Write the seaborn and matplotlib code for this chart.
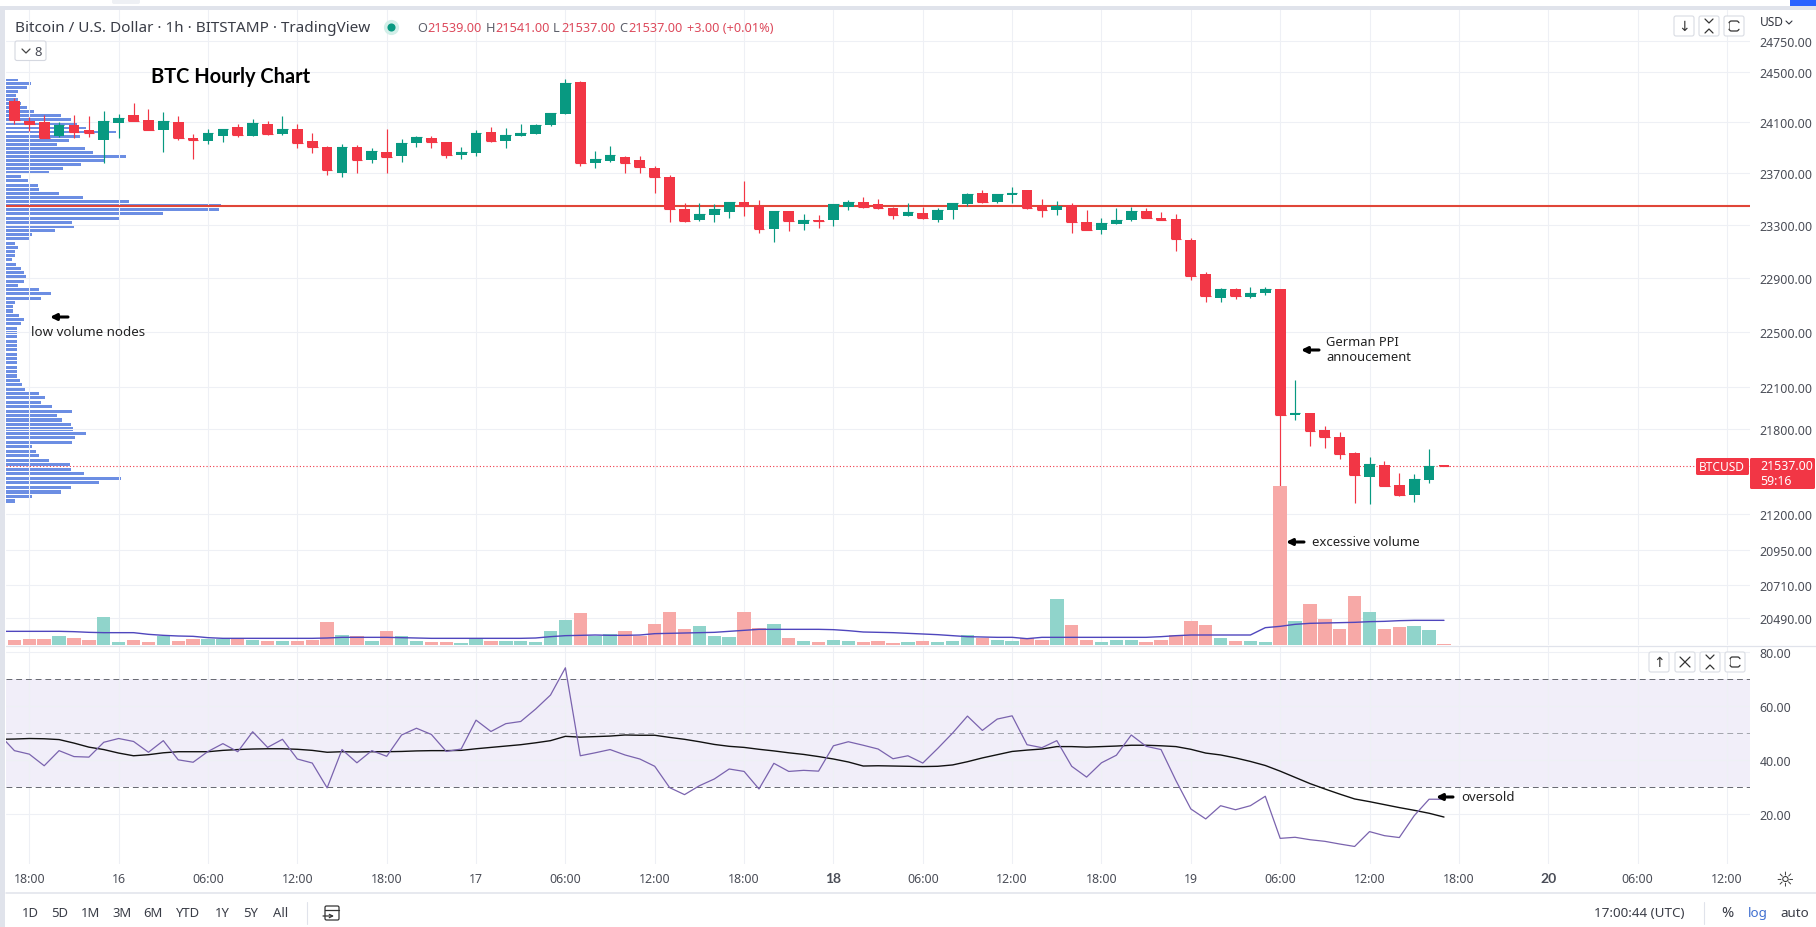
import numpy as np
import seaborn as sns
import matplotlib.pyplot as plt
from matplotlib.patches import FancyBboxPatch, Rectangle
from matplotlib.ticker import NullLocator

# hourly candles, hour 0 = 15 Aug 18:00
hours = np.arange(-1, 96)
opens = [24268, 24111, 24100, 23990, 24079, 24040, 23961, 24095, 24158, 24118,
         24040, 24100, 23976, 23953, 23992, 24063, 23992, 24087, 24008, 24047,
         23953, 23905, 23703, 23905, 23803, 23866, 23834, 23937, 23976, 23945,
         23842, 23858, 24024, 23953, 23992, 24008, 24079, 24166, 24423, 23779,
         23795, 23826, 23803, 23742, 23672, 23426, 23341, 23380, 23403, 23479,
         23451, 23272, 23410, 23311, 23344, 23341, 23441, 23479, 23464, 23433,
         23372, 23395, 23341, 23418, 23464, 23548, 23479, 23533, 23572, 23448,
         23418, 23454, 23326, 23265, 23311, 23341, 23410, 23357, 23349, 23189,
         22933, 22753, 22820, 22761, 22791, 22820, 21898, 21913, 21791, 21741,
         21628, 21458, 21543, 21402, 21332, 21437, 21539]
closes = [24121, 24087, 23979, 24079, 24024, 24016, 24111, 24134, 24111, 24042,
          24111, 23976, 23961, 24016, 24047, 24000, 24095, 24008, 24047, 23937,
          23905, 23726, 23905, 23803, 23874, 23826, 23937, 23984, 23945, 23842,
          23866, 24016, 23950, 24000, 24016, 24079, 24174, 24412, 23779, 23811,
          23842, 23779, 23750, 23672, 23426, 23334, 23387, 23426, 23479, 23448,
          23272, 23410, 23334, 23341, 23336, 23464, 23479, 23441, 23433, 23380,
          23403, 23357, 23418, 23471, 23541, 23479, 23541, 23548, 23433, 23418,
          23448, 23326, 23265, 23318, 23341, 23410, 23357, 23341, 23197, 22918,
          22768, 22820, 22768, 22791, 22820, 21898, 21913, 21784, 21741, 21621,
          21472, 21550, 21395, 21332, 21444, 21536, 21537]
highs = [24289, 24139, 24158, 24100, 24155, 24150, 24189, 24163, 24253, 24203,
         24179, 24150, 24005, 24045, 24047, 24084, 24124, 24108, 24150, 24084,
         24016, 23913, 23926, 23921, 23895, 24047, 23968, 23992, 23992, 23945,
         23903, 24040, 24063, 24053, 24084, 24087, 24174, 24444, 24431, 23874,
         23913, 23832, 23832, 23760, 23688, 23471, 23471, 23464, 23479, 23641,
         23494, 23410, 23410, 23387, 23380, 23464, 23494, 23517, 23502, 23438,
         23471, 23441, 23433, 23471, 23548, 23572, 23541, 23595, 23572, 23502,
         23487, 23469, 23418, 23354, 23433, 23441, 23431, 23400, 23387, 23207,
         22948, 22826, 22828, 22835, 22835, 22820, 22151, 21913, 21819, 21776,
         21635, 21599, 21571, 21486, 21479, 21656, 21541]
lows = [24087, 24034, 23979, 23982, 23976, 23987, 23782, 23976, 24111, 24042,
        23866, 23963, 23811, 23932, 23945, 23984, 23992, 24000, 24000, 23895,
        23858, 23688, 23672, 23700, 23779, 23702, 23787, 23905, 23897, 23819,
        23811, 23834, 23945, 23897, 23992, 24008, 24071, 24166, 23757, 23742,
        23792, 23703, 23703, 23548, 23326, 23329, 23336, 23326, 23357, 23372,
        23242, 23174, 23257, 23265, 23280, 23295, 23418, 23433, 23426, 23349,
        23372, 23349, 23326, 23349, 23448, 23471, 23471, 23471, 23426, 23364,
        23380, 23242, 23265, 23234, 23311, 23334, 23357, 23341, 23106, 22888,
        22724, 22721, 22746, 22753, 22776, 21374, 21862, 21677, 21663, 21585,
        21276, 21269, 21395, 21325, 21283, 21416, 21537]

volume = [15, 18, 18, 27, 21, 15, 84, 9, 15, 9, 27, 12, 18, 18, 18, 18, 15, 12, 12, 12,
          15, 69, 30, 27, 12, 42, 27, 12, 9, 9, 6, 18, 12, 12, 12, 9, 42, 75, 96, 27,
          33, 42, 27, 63, 99, 48, 57, 27, 24, 99, 51, 63, 21, 12, 9, 15, 12, 9, 12, 6,
          9, 12, 9, 12, 30, 21, 15, 12, 21, 15, 138, 60, 15, 9, 15, 15, 9, 15, 30, 72,
          60, 21, 12, 12, 9, 478, 72, 123, 78, 48, 147, 99, 48, 54, 57, 45, 3]
# these three start one hour earlier, clipped by the left edge
line_hours = np.arange(-2, 96)
volume_ma = [41, 41, 41, 41, 41, 40, 38, 37, 37, 37, 32, 29, 27, 26, 22, 20, 20, 20, 20, 20,
             20, 20, 21, 23, 23, 23, 23, 22, 21, 20, 20, 20, 20, 20, 20, 20, 21, 25, 28, 29,
             30, 29, 29, 30, 34, 35, 36, 37, 38, 41, 44, 47, 47, 47, 47, 47, 46, 43, 39, 38,
             37, 35, 33, 31, 28, 25, 24, 23, 23, 19, 23, 23, 23, 23, 23, 23, 23, 23, 25, 28,
             30, 30, 30, 30, 30, 52, 56, 62, 65, 66, 67, 68, 70, 71, 73, 74, 74, 74]
rsi = [49.5, 43.6, 42.3, 38.0, 43.6, 41.4, 41.2, 46.7, 48.1, 47.0, 43.0, 47.3, 40.2, 39.3,
       43.3, 46.2, 43.2, 50.6, 44.8, 47.8, 40.5, 39.0, 29.8, 44.0, 39.1, 43.6, 41.5, 49.4,
       51.9, 49.6, 43.3, 44.2, 54.9, 50.7, 53.6, 54.4, 59.0, 64.2, 74.3, 41.7, 42.8, 44.0,
       42.0, 40.5, 37.8, 29.9, 27.3, 30.6, 33.1, 36.8, 35.9, 29.4, 38.9, 35.9, 36.3, 36.0,
       45.4, 46.9, 45.6, 44.2, 40.6, 41.7, 39.0, 44.4, 50.1, 56.4, 51.1, 55.3, 56.5, 45.8,
       44.7, 47.3, 37.8, 33.8, 39.1, 41.9, 49.4, 45.2, 44.0, 32.5, 22.0, 18.3, 23.2, 21.7,
       23.2, 26.7, 11.1, 11.5, 10.6, 10.0, 9.0, 8.1, 13.6, 12.1, 11.4, 19.5, 25.6, 25.6]
rsi_ma = [47.8, 47.9, 48.1, 48.0, 47.7, 46.4, 44.9, 44.0, 42.7, 41.7, 42.1, 42.8, 43.2, 43.2,
          43.2, 43.7, 44.0, 44.2, 44.3, 44.3, 44.1, 43.7, 43.0, 43.2, 43.1, 43.2, 43.2, 43.3,
          43.5, 43.6, 43.6, 43.7, 44.3, 44.8, 45.3, 45.8, 46.5, 47.3, 48.9, 48.6, 48.8, 49.0,
          49.4, 49.3, 49.3, 48.5, 47.8, 46.9, 45.9, 45.2, 44.8, 44.1, 43.5, 42.8, 42.2, 41.4,
          40.5, 39.4, 37.9, 38.0, 37.9, 37.8, 37.7, 37.8, 38.3, 39.5, 40.9, 42.1, 43.3, 43.8,
          44.2, 45.1, 45.1, 44.9, 45.1, 45.3, 45.6, 45.6, 45.4, 45.1, 44.1, 42.7, 42.0, 40.9,
          39.6, 38.1, 36.0, 33.7, 31.4, 29.4, 27.5, 25.7, 24.7, 23.6, 22.5, 21.5, 20.4, 19.0]

# volume profile rows, top to bottom
profile_prices = np.linspace(24436, 21290, 100)
profile_volume = [12, 25, 21, 12, 10, 12, 15, 21, 28, 55, 65, 71, 80, 110, 74, 63, 51, 79, 87, 120,
                  98, 75, 57, 43, 15, 22, 32, 33, 53, 77, 123, 215, 213, 157, 114, 66, 68, 49, 26, 23,
                  9, 12, 9, 9, 6, 10, 15, 18, 20, 18, 12, 33, 45, 35, 9, 7, 7, 13, 18, 15,
                  11, 11, 11, 11, 11, 11, 11, 11, 11, 11, 11, 11, 14, 16, 19, 33, 39, 35, 46, 66,
                  51, 56, 65, 67, 80, 69, 66, 26, 30, 33, 43, 64, 65, 78, 115, 93, 65, 55, 26, 9]
poc_price = 23451
last_price = 21537

price_ticks = [24750, 24500, 24100, 23700, 23300, 22900, 22500, 22100, 21800, 21200, 20950, 20710, 20490]
rsi_ticks = [20, 40, 60, 80]
time_ticks = np.arange(0, 115, 6)
time_labels = ["18:00", "16", "06:00", "12:00", "18:00", "17", "06:00", "12:00", "18:00", "18",
               "06:00", "12:00", "18:00", "19", "06:00", "12:00", "18:00", "20", "06:00", "12:00"]
range_buttons = ["1D", "5D", "1M", "3M", "6M", "YTD", "1Y", "5Y", "All"]
range_button_x = [30, 60, 91, 122, 153, 188, 222, 251, 281]

RED = "#f23645"
GREEN = "#089981"
VOL_RED = "#f7a9a7"
VOL_GREEN = "#90d4cb"
GRID = "#eef0f5"
TEXT = "#4a4d57"
FONT = "Noto Sans"

sns.set_theme(style="white")
plt.rcParams["font.family"] = [FONT, "DejaVu Sans"]

W, H = 1816, 928
fig = plt.figure(figsize=(W / 100, H / 100), dpi=100, facecolor="white")


def pane(left, top, right, bottom, **kw):
    return fig.add_axes([left / W, 1 - bottom / H, (right - left) / W, (bottom - top) / H], **kw)


xlim = (-1.565, 115.55)
price_lim = (20310, 25010)

# volume profile sits behind the price pane
ax_prof = pane(6, 10, 1750, 646, zorder=0)
ax_prof.set_yscale("log")
ax_prof.barh(profile_prices, profile_volume, height=23, color="#6c8ee3", linewidth=0)
ax_prof.set_xlim(0, 1744)
ax_prof.set_ylim(price_lim)
ax_prof.axis("off")

ax = pane(6, 10, 1750, 646, zorder=1)
ax.patch.set_visible(False)
ax.set_yscale("log")
ax.axhline(poc_price, color="#e04638", lw=1.5, zorder=3)
ax.axhline(last_price, color=RED, lw=0.8, ls=(0, (1, 2)), zorder=3)

colors = [GREEN if c >= o else RED for o, c in zip(opens, closes)]
opens_a, closes_a = np.array(opens), np.array(closes)
ax.vlines(hours, lows, highs, colors=colors, lw=0.85, zorder=4)
ax.bar(hours, np.abs(closes_a - opens_a), bottom=np.minimum(opens_a, closes_a), width=0.72,
       color=colors, linewidth=0, zorder=5)
ax.hlines(closes, hours - 0.36, hours + 0.36, colors=colors, lw=0.8, zorder=5)

# volume overlay, own linear scale, hidden axis
ax_vol = ax.twinx()
ax_vol.set_zorder(2)
vol_side = ["up" if c >= o else "down" for o, c in zip(opens, closes)]
sns.barplot(x=hours, y=volume, hue=vol_side, palette={"up": VOL_GREEN, "down": VOL_RED},
            native_scale=True, dodge=False, width=0.9, saturation=1, linewidth=0,
            legend=False, errorbar=None, ax=ax_vol)
sns.lineplot(x=line_hours, y=volume_ma, color="#4f46bd", linewidth=1, errorbar=None, ax=ax_vol)
ax_vol.set_ylim(0, 1908)
ax_vol.axis("off")

ax.set_xlim(xlim)
ax.set_ylim(price_lim)
ax.yaxis.set_minor_locator(NullLocator())
ax.yaxis.tick_right()
ax.set_yticks(price_ticks)
ax.set_yticklabels([f"{p:.2f}" for p in price_ticks])
ax.set_xticks(time_ticks)
ax.tick_params(axis="x", length=0, labelbottom=False)
ax.tick_params(axis="y", length=0, pad=7, labelsize=8.9, labelcolor=TEXT)
ax.grid(True, color=GRID, lw=0.75)
ax.set_axisbelow(True)
for s in ax.spines.values():
    s.set_visible(False)

# RSI pane
ax_rsi = pane(6, 648, 1750, 865, zorder=1)
ax_rsi.axhspan(30, 70, color="#f1eef9", lw=0, zorder=0)
for level, c in [(70, "#666870"), (50, "#a2a4ac"), (30, "#666870")]:
    ax_rsi.axhline(level, color=c, lw=0.7, ls=(0, (6, 4)), zorder=2)
sns.lineplot(x=line_hours, y=rsi_ma, color="#111111", linewidth=1.0, errorbar=None, ax=ax_rsi, zorder=3)
sns.lineplot(x=line_hours, y=rsi, color="#7a63ae", linewidth=0.9, errorbar=None, ax=ax_rsi, zorder=4)
ax_rsi.set_xlim(xlim)
ax_rsi.set_ylim(1.6, 82)
ax_rsi.yaxis.tick_right()
ax_rsi.set_yticks(rsi_ticks)
ax_rsi.set_yticklabels([f"{v:.2f}" for v in rsi_ticks])
ax_rsi.set_xticks(time_ticks)
ax_rsi.set_xticklabels(time_labels)
ax_rsi.set_xlabel("")
ax_rsi.set_ylabel("")
ax_rsi.tick_params(axis="x", length=0, pad=6, labelsize=8.9, labelcolor=TEXT)
ax_rsi.tick_params(axis="y", length=0, pad=7, labelsize=8.9, labelcolor=TEXT)
for lab, t in zip(ax_rsi.get_xticklabels(), time_labels):
    if t in ("18", "20"):
        lab.set_fontfamily("Lato")
        lab.set_fontweight("bold")
        lab.set_fontsize(10)
ax_rsi.grid(True, color=GRID, lw=0.75)
ax_rsi.set_axisbelow(True)
for s in ax_rsi.spines.values():
    s.set_visible(False)

# everything else: screen furniture in pixel coordinates
ov = fig.add_axes([0, 0, 1, 1], zorder=10)
ov.set_xlim(0, W)
ov.set_ylim(H, 0)
ov.axis("off")

CHROME = "#e0e3eb"
ov.add_patch(Rectangle((0, 7), W, 4, color=CHROME, lw=0))
ov.add_patch(Rectangle((0, 7), 5, H, color=CHROME, lw=0))
ov.add_patch(Rectangle((1790, 0), 26, 7, color="#2962ff", lw=0))
ov.add_patch(FancyBboxPatch((112, 0), 28, 5, boxstyle="round,pad=0,rounding_size=2", fc="#eef0f4", ec="none"))
ov.plot([6, W], [646.5, 646.5], color=CHROME, lw=0.9)
ov.plot([6, W], [894, 894], color=CHROME, lw=1.1)
ov.plot([306.5, 306.5], [903, 925], color=CHROME, lw=0.8)
ov.plot([1703.5, 1703.5], [903, 925], color=CHROME, lw=0.8)


def label(x, y, s, size=8.6, color=TEXT, ha="left", **kw):
    ov.text(x, y, s, fontsize=size, color=color, ha=ha, va="center", **kw)


label(15, 28, "Bitcoin / U.S. Dollar · 1h · BITSTAMP · TradingView", size=11, color="#3a3d47")
ov.scatter([391], [28], s=120, color="#d3efe9", linewidth=0)
ov.scatter([391], [28], s=34, color=GREEN, linewidth=0)
for x, s, c in [(417, "O", "#5d606b"), (427, "21539.00", "#dd4a5c"), (486, "H", "#5d606b"), (495, "21541.00", "#dd4a5c"),
                (553, "L", "#5d606b"), (561, "21537.00", "#dd4a5c"), (619, "C", "#5d606b"), (628, "21537.00", "#dd4a5c"),
                (687, "+3.00 (+0.01%)", "#dd4a5c")]:
    label(x, 28, s, size=9.2, color=c)

ov.add_patch(FancyBboxPatch((15, 42), 31, 19.5, boxstyle="round,pad=0,rounding_size=2", fc="white", ec="#d5d8e0", lw=0.8))
ov.plot([22, 26, 30], [50, 54, 50], color="#444", lw=0.9)
label(38, 52, "8", size=9.4, ha="center")

label(151, 77, "BTC Hourly Chart", size=14.4, color="black", fontweight="bold", family="Lato")
label(31, 333, "low volume nodes", size=9.6, color="#222222")
label(1326, 343, "German PPI", size=9.3, color="#222222")
label(1326, 358, "annoucement", size=9.3, color="#222222")
label(1312, 543, "excessive volume", size=9.5, color="#222222")
label(1461, 798, "oversold", size=9.5, color="#222222")
for x0, x1, y in [(50, 68, 318), (1301, 1319, 351), (1286, 1304, 543), (1436, 1453, 798)]:
    ov.annotate("", xy=(x0, y), xytext=(x1, y),
                arrowprops=dict(arrowstyle="-|>", color="black", lw=2.2, mutation_scale=9, shrinkA=0, shrinkB=0))

# last price tags
ov.add_patch(FancyBboxPatch((1696, 459), 53, 17, boxstyle="round,pad=0,rounding_size=1.5", fc=RED, ec="none"))
ov.add_patch(FancyBboxPatch((1750, 459), 65, 31, boxstyle="round,pad=0,rounding_size=1.5", fc=RED, ec="none"))
label(1722, 467.5, "BTCUSD", size=8.6, color="white", ha="center")
label(1760, 467, "21537.00", size=8.9, color="white")
label(1760, 481.5, "59:16", size=8.9, color="white")

label(1760, 23, "USD", size=8.6, color="#333640")
ov.plot([1786, 1789, 1792], [22, 25, 22], color="#333640", lw=0.8)


def button(x, y):
    ov.add_patch(FancyBboxPatch((x, y), 20, 20, boxstyle="round,pad=0,rounding_size=2", fc="white", ec="#d9dce3", lw=0.8))


def chevrons(cx, cy):
    ov.plot([cx - 4, cx, cx + 4], [cy - 7, cy - 3, cy - 7], color="#333", lw=0.9)
    ov.plot([cx - 4, cx, cx + 4], [cy + 7, cy + 3, cy + 7], color="#333", lw=0.9)


def fullscreen(cx, cy):
    ov.add_patch(FancyBboxPatch((cx - 5, cy - 5), 10, 10, boxstyle="round,pad=0,rounding_size=2.5", fc="none", ec="#333", lw=0.9))
    ov.plot([cx - 6, cx - 6], [cy - 2, cy + 2], color="white", lw=1.6)
    ov.plot([cx + 5, cx + 5], [cy - 2, cy + 2], color="white", lw=1.6)


for x in (1674, 1699, 1724):
    button(x, 17)
label(1684, 27, "↓", size=10, color="#333", ha="center", family="DejaVu Sans")
chevrons(1709, 27)
fullscreen(1734, 27)
for x in (1649, 1675, 1700, 1725):
    button(x, 653)
label(1659, 663, "↑", size=10, color="#333", ha="center", family="DejaVu Sans")
ov.plot([1680, 1690], [658, 668], color="#333", lw=0.9)
ov.plot([1680, 1690], [668, 658], color="#333", lw=0.9)
chevrons(1710, 663)
fullscreen(1735, 663)

# bottom toolbar
for x, s in zip(range_button_x, range_buttons):
    label(x, 914, s, size=9.4, color="#3a3d47", ha="center")
ov.add_patch(FancyBboxPatch((325, 907), 14, 14, boxstyle="round,pad=0,rounding_size=1.5", fc="none", ec="#333", lw=0.9))
ov.plot([325, 339], [911, 911], color="#333", lw=0.9)
ov.annotate("", xy=(334, 917), xytext=(323, 917),
            arrowprops=dict(arrowstyle="->", color="#333", lw=0.9, mutation_scale=6, shrinkA=0, shrinkB=0))
label(1594, 914, "17:00:44 (UTC)", size=9.7, color="#3a3d47")
label(1727, 914, "%", size=10.5, color="#3a3d47", ha="center")
label(1758, 914, "log", size=9.6, color="#3f6fd0", ha="center")
label(1795, 914, "auto", size=9.6, color="#3a3d47", ha="center")
label(1785, 880, "☼", size=15, color="#333", ha="center", family="DejaVu Sans")

fig.savefig("out.png", dpi=100)
